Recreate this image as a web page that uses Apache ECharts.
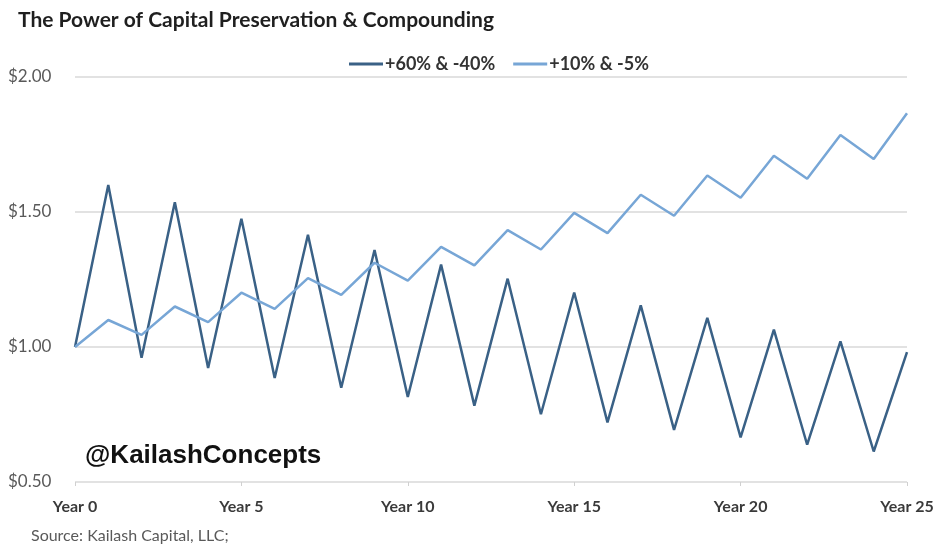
<!DOCTYPE html>
<html><head><meta charset="utf-8">
<script src="https://cdn.jsdelivr.net/npm/echarts@6/dist/echarts.min.js"></script>
<style>html,body{margin:0;padding:0;background:#fff}#c{width:941px;height:551px}</style>
</head><body><div id="c"></div>
<script>
const categories = ["Year 0","Year 1","Year 2","Year 3","Year 4","Year 5","Year 6","Year 7","Year 8","Year 9","Year 10","Year 11","Year 12","Year 13","Year 14","Year 15","Year 16","Year 17","Year 18","Year 19","Year 20","Year 21","Year 22","Year 23","Year 24","Year 25"];
const volatileName = "+60% & -40%";
const volatileValues = [1.00,1.60,0.96,1.536,0.922,1.475,0.885,1.416,0.849,1.359,0.815,1.305,0.783,1.253,0.751,1.202,0.721,1.154,0.693,1.108,0.665,1.064,0.638,1.021,0.613,0.981];
const steadyName = "+10% & -5%";
const steadyValues = [1.00,1.10,1.045,1.150,1.092,1.201,1.141,1.255,1.193,1.312,1.246,1.371,1.302,1.433,1.361,1.497,1.422,1.564,1.486,1.635,1.553,1.708,1.623,1.785,1.696,1.866];
const yTicks = [0.5, 1.0, 1.5, 2.0];

const chart = echarts.init(document.getElementById('c'), null, {renderer:'canvas'});
chart.setOption({
  animation:false,
  backgroundColor:'#ffffff',
  title:{text:'The Power of Capital Preservation & Compounding',left:13,top:5,
    textStyle:{fontFamily:'Lato',fontWeight:'bold',fontSize:21,color:'#1f1f1f'}},
  legend:{top:50,left:344,icon:'rect',itemWidth:34,itemHeight:3,itemGap:18,
    textStyle:{fontFamily:'Lato',fontSize:18,color:'#333',fontWeight:'bold',padding:[0,0,0,-3]},
    data:[volatileName,steadyName]},
  grid:{left:75,right:34,top:77,bottom:69,containLabel:false},
  xAxis:{type:'category',boundaryGap:false,data:categories,
    axisLine:{show:false},
    axisTick:{show:true,interval:4,length:4,lineStyle:{color:'#d0d0d0'}},
    axisLabel:{interval:4,margin:17,fontFamily:'Lato',fontWeight:'bold',fontSize:16,color:'#3a3a3a'},
    splitLine:{show:false}},
  yAxis:{type:'value',min:yTicks[0],max:yTicks[yTicks.length-1],interval:0.5,
    axisLine:{show:false},axisTick:{show:false},
    axisLabel:{align:'left',margin:67,fontFamily:'Lato',fontSize:17,color:'#595959',
      formatter:function(v){return '$'+v.toFixed(2);}},
    splitLine:{lineStyle:{color:'#d9d9d9',width:1.5}}},
  graphic:[
    {type:'text',left:85,top:443,style:{text:'@KailashConcepts',fontFamily:'Liberation Sans',fontWeight:'bold',fontSize:26,fill:'#111'}},
    {type:'text',left:31,top:528,style:{text:'Source: Kailash Capital, LLC;',fontFamily:'Lato',fontSize:16,fill:'#595959'}}
  ],
  series:[
    {name:volatileName,type:'line',data:volatileValues,symbol:'none',
      lineStyle:{color:'#3a6186',width:2.5},itemStyle:{color:'#3a6186'}},
    {name:steadyName,type:'line',data:steadyValues,symbol:'none',
      lineStyle:{color:'#77a6d6',width:2.5},itemStyle:{color:'#77a6d6'}}
  ]
});
</script></body></html>
